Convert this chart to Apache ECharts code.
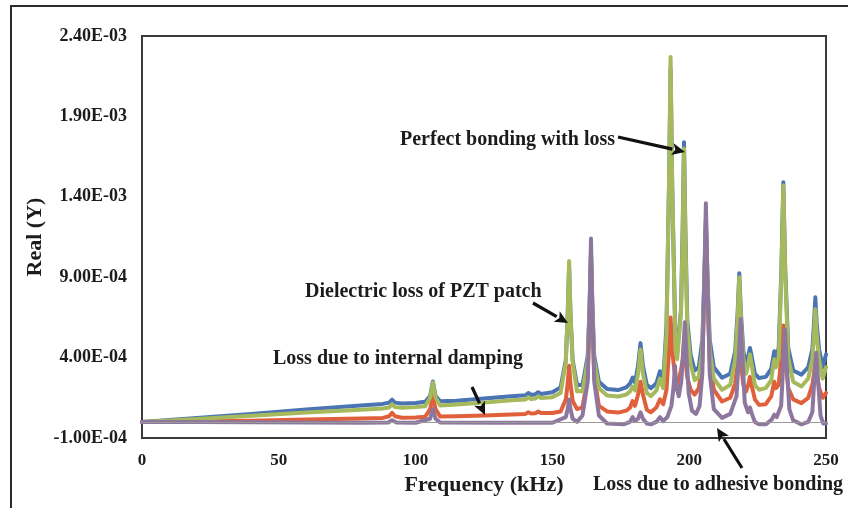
<!DOCTYPE html>
<html>
<head>
<meta charset="utf-8">
<script src="https://cdn.jsdelivr.net/npm/echarts@6/dist/echarts.min.js"></script>
<style>
html,body{margin:0;padding:0;background:#fff;}
#chart{width:848px;height:508px;}
</style>
</head>
<body>
<div id="chart"></div>
<script>
// Values of Real(Y) are stored in units of 1E-04 (axis labels show the real value).
const freqA = [
  0,20,40,60,80,88,90.3,91.4,92.5,95,
  100,103.5,105.3,106.3,107.3,109,115,125,135,140.2,
  141.2,142.2,143.8,144.8,145.8,150,153,154.9,155.6,156.1,
  156.6,157.4,159,161,162.9,163.6,164.1,164.6,165.3,167,
  170,174,177,178.4,179.3,180.2,181.3,182.2,183.1,184.5,
  186,188,189.3,190.5,191.7,192.6,193.2,193.8,195,195.6,
  197.0,197.6,198.1,198.6,199.3,200.5,202,203.5,204.8,205.5,
  206.1,206.7,207.5,209,212,215,216.8,217.7,218.3,218.9,
  219.8,220.8,221.6,222.2,222.8,224,225.5,228,230,230.6,
  231.1,231.7,232.7,233.7,234.4,235.1,236.2,238,241,243.5,
  245,245.6,246.1,246.6,247.5,248.8,250
];
const perfectBonding = [
  0,0.25,0.5,0.78,1.02,1.12,1.2,1.38,1.2,1.14,
  1.18,1.25,1.6,2.52,1.6,1.28,1.32,1.45,1.6,1.66,
  1.8,1.68,1.72,1.85,1.74,1.84,2.15,3.85,6.75,9.7,
  6.75,3.85,2.3,2.3,4.1,7.2,10.5,7.2,4.1,2.5,
  2.05,1.98,2.15,2.4,2.75,2.45,3.5,4.9,3.5,2.3,
  2.1,2.4,3.15,2.6,6.0,14.5,22.0,14.5,4.8,4.3,
  7.0,12.0,17.4,12.0,6.3,4.2,3.2,3.4,5.1,8.8,
  12.5,8.8,5.1,3.4,2.75,3.0,4.4,6.8,9.25,6.8,
  4.4,3.6,4.1,4.6,4.1,3.0,2.73,2.8,3.3,3.9,
  4.4,3.9,4.6,9.5,14.9,9.5,4.6,3.2,2.94,3.4,
  4.5,6.1,7.75,6.1,4.5,3.4,4.2
];
const dielectricLoss = [
  0,0.18,0.38,0.58,0.76,0.84,0.9,1.1,0.92,0.88,
  0.92,0.98,1.5,2.45,1.5,1.02,1.08,1.2,1.35,1.4,
  1.55,1.42,1.46,1.6,1.48,1.54,1.8,3.7,6.8,10.0,
  6.8,3.7,1.9,1.9,3.8,7.1,10.5,7.1,3.8,2.1,
  1.65,1.58,1.7,1.9,2.2,1.95,3.0,4.5,3.0,1.8,
  1.6,1.95,2.7,2.1,5.5,14.8,22.7,14.8,4.5,3.9,
  6.8,11.5,17.0,11.5,5.8,3.6,2.6,2.8,4.5,8.6,
  12.5,8.6,4.5,2.7,2.0,2.3,3.9,6.4,9.0,6.4,
  3.9,3.0,3.6,4.2,3.6,2.3,2.0,2.1,2.6,3.4,
  3.9,3.4,4.0,9.2,14.7,9.2,4.0,2.5,2.2,2.7,
  3.9,5.4,7.0,5.4,3.8,2.7,3.4
];
const internalDamping = [
  0,0.04,0.08,0.15,0.22,0.25,0.35,0.56,0.35,0.26,
  0.27,0.32,0.8,1.6,0.8,0.33,0.35,0.4,0.46,0.5,
  0.6,0.52,0.54,0.65,0.55,0.55,0.65,1.4,2.4,3.5,
  2.4,1.3,0.8,0.9,2.8,6.6,10.0,6.6,2.8,1.0,
  0.65,0.58,0.7,0.9,1.3,1.0,1.7,2.5,1.7,0.75,
  0.6,0.9,1.4,1.1,2.0,4.4,6.5,4.4,2.6,2.3,
  3.2,3.9,5.0,3.9,2.8,2.0,1.7,2.1,3.8,8.0,
  12.0,8.0,3.8,2.0,1.27,1.5,2.4,3.6,5.0,3.6,
  2.3,1.9,2.3,2.8,2.3,1.4,1.06,1.1,1.6,2.1,
  2.5,2.1,2.3,4.1,6.0,4.1,2.1,1.4,1.17,1.5,
  2.3,3.0,4.0,3.0,2.1,1.5,1.8
];
const freqP = [
  0,20,40,60,80,90,91.4,93,100,105.3,
  106.3,107.3,109,130,150,154.9,155.6,156.1,156.6,157.4,
  159,161,162.9,163.6,164.1,164.6,165.3,167,170,176,
  178.4,179.3,180.2,181.3,182.2,183.1,184.5,186,188,189.3,
  190.5,192,193.5,194.3,194.8,195.3,196.2,197.1,197.8,198.4,
  199.0,199.8,201,202.5,203.8,204.8,205.5,206.1,206.7,207.5,
  209,212,215,217.3,218.2,218.8,219.4,220.3,221.5,222.2,
  222.9,224,225.5,228,230.2,231.1,232,233.6,234.4,235.0,
  235.6,236.6,238,241,243.5,245,245.8,246.4,247,248,
  249,250
];
const adhesiveBonding = [
  0,-0.01,-0.02,-0.03,-0.05,-0.04,0.1,-0.04,-0.05,0.2,
  0.8,0.2,-0.04,-0.05,-0.05,0.3,0.8,1.4,0.8,0.2,
  0.0,0.4,2.5,7.2,11.4,7.2,2.5,0.4,-0.1,-0.15,
  0.0,0.3,0.05,0.2,0.6,0.2,-0.1,-0.15,0.0,0.3,
  0.05,0.3,1.0,2.2,3.5,2.2,1.6,2.5,4.2,6.2,
  4.2,1.8,0.7,0.5,1.0,3.0,8.6,13.6,8.6,3.0,
  0.8,0.25,0.5,1.6,4.2,6.4,4.2,1.2,0.6,0.9,
  0.5,0.0,-0.15,-0.15,0.15,0.45,0.3,1.0,3.7,5.75,
  3.7,0.8,0.1,-0.15,0.0,0.6,2.8,4.3,2.8,0.4,
  -0.1,-0.1
];
const xTicks = [0, 50, 100, 150, 200, 250];
const yTicks = [-1, 4, 9, 14, 19, 24];   // in units of 1E-04

function pairs(xs, ys) {
  const n = Math.min(xs.length, ys.length);
  const out = [];
  for (let i = 0; i < n; i++) out.push([xs[i], ys[i]]);
  return out;
}
function fmtE(v) {
  const r = v * 1e-4;
  let s = r.toExponential(2).toUpperCase();
  return s.replace(/E([+-])(\d)$/, 'E$10$2');
}

const FONT = '"Liberation Serif", "Times New Roman", serif';
const TXT = '#1c1c1c';

function arrow(x1, y1, x2, y2) {
  const ang = Math.atan2(y2 - y1, x2 - x1);
  const L = 13, W = 6;
  const bx = x2 - L * Math.cos(ang), by = y2 - L * Math.sin(ang);
  const px = -Math.sin(ang) * W, py = Math.cos(ang) * W;
  return [
    { type: 'line', z: 100, shape: { x1: x1, y1: y1, x2: bx, y2: by },
      style: { stroke: '#111', lineWidth: 3.2 } },
    { type: 'polygon', z: 100, shape: { points: [[x2, y2], [bx + px, by + py], [bx + 3 * Math.cos(ang), by + 3 * Math.sin(ang)], [bx - px, by - py]] },
      style: { fill: '#111' } }
  ];
}
function note(text, x, y, align) {
  return { type: 'text', z: 100, style: { text: text, x: x, y: y, fill: TXT,
    font: 'bold 20px ' + FONT, align: align || 'left', verticalAlign: 'middle' } };
}

const chart = echarts.init(document.getElementById('chart'), null, { renderer: 'canvas' });
const lineCommon = { type: 'line', showSymbol: false, symbol: 'none', smooth: false, animation: false, silent: true };

chart.setOption({
  animation: false,
  backgroundColor: '#fff',
  grid: { left: 142, right: 22, top: 36, bottom: 70, show: true, borderColor: '#3a3a3a', borderWidth: 2, backgroundColor: 'transparent' },
  xAxis: {
    type: 'value', min: 0, max: 250, interval: 50,
    name: 'Frequency (kHz)', nameLocation: 'middle', nameGap: 36, nameMoveOverlap: false,
    nameTextStyle: { fontFamily: FONT, fontWeight: 'bold', fontSize: 22, color: TXT },
    axisLine: { show: false }, axisTick: { show: false }, splitLine: { show: false },
    axisLabel: { fontFamily: FONT, fontWeight: 'bold', fontSize: 17, color: TXT, margin: 14,
      customValues: xTicks }
  },
  yAxis: {
    type: 'value', min: -1, max: 24,
    name: 'Real (Y)', nameLocation: 'middle', nameGap: 96, nameRotate: 90, nameMoveOverlap: false,
    nameTextStyle: { fontFamily: FONT, fontWeight: 'bold', fontSize: 22, color: TXT },
    axisLine: { show: false }, axisTick: { show: false }, splitLine: { show: false },
    axisLabel: { fontFamily: FONT, fontWeight: 'bold', fontSize: 18, color: TXT, margin: 15,
      customValues: yTicks, formatter: fmtE }
  },
  series: [
    Object.assign({}, lineCommon, { name: 'Perfect bonding with loss', data: pairs(freqA, perfectBonding),
      lineStyle: { color: '#4a74b3', width: 4, join: 'round', cap: 'round' }, itemStyle: { color: '#4a74b3' },
      markLine: { silent: true, symbol: ['none', 'none'], label: { show: false },
        lineStyle: { color: '#9a9a9a', width: 1, type: 'solid' }, data: [{ yAxis: 0 }] } }),
    Object.assign({}, lineCommon, { name: 'Loss due to internal damping', data: pairs(freqA, internalDamping),
      lineStyle: { color: '#e0603c', width: 4, join: 'round', cap: 'round' }, itemStyle: { color: '#e0603c' } }),
    Object.assign({}, lineCommon, { name: 'Dielectric loss of PZT patch', data: pairs(freqA, dielectricLoss),
      lineStyle: { color: '#a6b95c', width: 4, join: 'round', cap: 'round' }, itemStyle: { color: '#a6b95c' } }),
    Object.assign({}, lineCommon, { name: 'Loss due to adhesive bonding', data: pairs(freqP, adhesiveBonding),
      lineStyle: { color: '#8e779f', width: 4, join: 'round', cap: 'round' }, itemStyle: { color: '#8e779f' } })
  ],
  graphic: [
    { type: 'rect', z: -1, shape: { x: 11, y: 6, width: 900, height: 600 },
      style: { fill: 'none', stroke: '#2a2a2a', lineWidth: 2 } },
    note('Perfect bonding with loss', 615, 140, 'right'),
    note('Dielectric loss of PZT patch', 305, 292, 'left'),
    note('Loss due to internal damping', 273, 359, 'left'),
    note('Loss due to adhesive bonding', 593, 485, 'left')
  ].concat(arrow(618, 137, 685, 152))
   .concat(arrow(533, 303, 568, 323))
   .concat(arrow(472, 387, 485, 415))
   .concat(arrow(742, 468, 717, 428))
});
</script>
</body>
</html>
